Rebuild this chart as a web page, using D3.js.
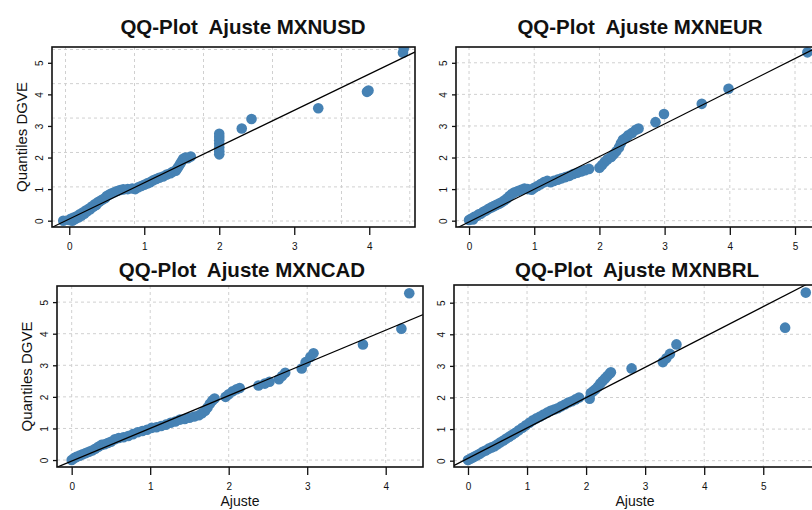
<!DOCTYPE html>
<html>
<head>
<meta charset="utf-8">
<script src="https://cdn.jsdelivr.net/npm/d3@7"></script>
<style>
  body { margin: 0; background: #fff; }
  text { font-family: "Liberation Sans", Arial, sans-serif; }
</style>
</head>
<body>
<div id="chart"></div>
<script>
// QQ-plot data: x = Ajuste, y = Quantiles DGVE
let usdPts = [[-0.08,0.0],[0.00,0.02],[0.02,0.06],[0.04,0.00],[0.06,0.10],[0.08,0.05],[0.10,0.14],[0.12,0.10],[0.14,0.20],[0.16,0.16],[0.18,0.26],[0.20,0.22],[0.22,0.32],[0.24,0.30],[0.26,0.38],[0.28,0.36],[0.30,0.45],[0.32,0.44],[0.34,0.52],[0.36,0.50],[0.38,0.58],[0.40,0.60],[0.42,0.64],[0.45,0.68],[0.48,0.72],[0.50,0.78],[0.53,0.82],[0.56,0.86],[0.60,0.90],[0.64,0.94],[0.68,0.97],[0.72,0.99],[0.78,1.00],[0.84,1.02],[0.88,1.00],[0.92,1.06],[0.96,1.10],[1.00,1.14],[1.04,1.18],[1.08,1.22],[1.12,1.28],[1.16,1.32],[1.20,1.36],[1.25,1.40],[1.30,1.46],[1.35,1.50],[1.38,1.55],[1.42,1.58],[1.44,1.65],[1.46,1.72],[1.48,1.80],[1.50,1.88],[1.52,1.96],[1.55,2.00],[1.58,1.98],[1.62,2.03],[2.00,2.10],[2.00,2.20],[2.00,2.32],[2.00,2.44],[2.00,2.55],[2.00,2.65],[2.00,2.75],[2.30,2.92],[2.43,3.22],[3.32,3.56],[3.97,4.08],[3.99,4.12],[4.45,5.32],[4.46,5.45]]
let eurPts = [[0.00,0.02],[0.03,0.06],[0.06,0.04],[0.08,0.12],[0.12,0.15],[0.15,0.20],[0.18,0.22],[0.22,0.28],[0.26,0.32],[0.30,0.38],[0.34,0.42],[0.38,0.46],[0.42,0.50],[0.46,0.54],[0.50,0.58],[0.54,0.64],[0.58,0.70],[0.62,0.78],[0.66,0.85],[0.70,0.90],[0.75,0.94],[0.80,0.98],[0.85,1.02],[0.90,1.00],[0.96,0.98],[1.00,1.04],[1.05,1.10],[1.10,1.16],[1.15,1.22],[1.20,1.26],[1.25,1.22],[1.30,1.26],[1.36,1.30],[1.42,1.34],[1.48,1.38],[1.54,1.42],[1.60,1.48],[1.66,1.52],[1.72,1.56],[1.78,1.60],[1.84,1.64],[2.00,1.68],[2.04,1.76],[2.08,1.86],[2.12,1.94],[2.18,2.02],[2.22,2.10],[2.26,2.20],[2.30,2.32],[2.33,2.45],[2.36,2.56],[2.40,2.62],[2.44,2.70],[2.50,2.78],[2.56,2.88],[2.60,2.92],[2.86,3.12],[2.99,3.38],[3.57,3.70],[3.98,4.18],[5.19,5.33]]
let cadPts = [[0.00,0.00],[0.03,0.06],[0.06,0.10],[0.10,0.14],[0.14,0.18],[0.18,0.22],[0.22,0.26],[0.26,0.30],[0.30,0.36],[0.34,0.42],[0.38,0.48],[0.42,0.50],[0.46,0.54],[0.50,0.58],[0.55,0.66],[0.60,0.70],[0.66,0.72],[0.72,0.76],[0.78,0.82],[0.84,0.88],[0.90,0.92],[0.96,0.96],[1.02,1.02],[1.08,1.04],[1.14,1.08],[1.20,1.12],[1.26,1.18],[1.32,1.22],[1.38,1.28],[1.44,1.30],[1.50,1.34],[1.56,1.38],[1.62,1.42],[1.66,1.48],[1.70,1.56],[1.73,1.66],[1.76,1.78],[1.79,1.88],[1.82,1.95],[1.96,2.00],[2.00,2.08],[2.05,2.18],[2.10,2.24],[2.14,2.28],[2.38,2.36],[2.46,2.42],[2.52,2.48],[2.64,2.56],[2.68,2.66],[2.72,2.76],[2.93,2.90],[2.98,3.10],[3.04,3.26],[3.08,3.38],[3.71,3.66],[4.20,4.16],[4.30,5.28]]
let brlPts = [[0.00,0.02],[0.04,0.06],[0.08,0.10],[0.12,0.14],[0.16,0.18],[0.20,0.22],[0.25,0.28],[0.30,0.32],[0.35,0.38],[0.40,0.42],[0.45,0.46],[0.50,0.52],[0.55,0.58],[0.60,0.64],[0.65,0.70],[0.70,0.76],[0.75,0.82],[0.80,0.88],[0.86,0.96],[0.92,1.04],[0.98,1.12],[1.04,1.20],[1.10,1.28],[1.16,1.34],[1.22,1.40],[1.28,1.46],[1.34,1.52],[1.40,1.58],[1.46,1.62],[1.52,1.66],[1.58,1.72],[1.64,1.78],[1.70,1.84],[1.76,1.88],[1.82,1.94],[1.88,2.00],[2.06,1.96],[2.08,2.14],[2.12,2.20],[2.16,2.26],[2.20,2.34],[2.24,2.44],[2.28,2.52],[2.32,2.60],[2.36,2.68],[2.40,2.76],[2.42,2.80],[2.77,2.92],[3.30,3.12],[3.36,3.24],[3.42,3.38],[3.53,3.68],[5.37,4.21],[5.72,5.32]]

// qq reference lines, as two end points [x, y]
let usdLine = [[-0.3,-0.29],[5,5.79]]
let eurLine = [[-0.3,-0.35],[6,6.17]]
let cadLine = [[-0.3,-0.345],[5,5.15]]
let brlLine = [[-0.3,-0.212],[6.5,6.316]]

// tick labels
let ticksY = [0,1,2,3,4,5]
let usdTicksX = [0,1,2,3,4]
let eurTicksX = [0,1,2,3,4,5]
let cadTicksX = [0,1,2,3,4]
let brlTicksX = [0,1,2,3,4,5]

// grid positions (the first panel's grid is not on its ticks)
let usdGridX = [-0.05,0.87,1.79,2.71,3.63,4.54]
let usdGridY = [-0.01,1.07,2.16,3.25,4.34,5.42]

let panels = [
    {title: "QQ-Plot  Ajuste MXNUSD", pts: usdPts, fit: usdLine, tx: usdTicksX, gx: usdGridX, gy: usdGridY,
     box: [52, 47, 415, 227], xd: [-0.23, 4.61], yd: [-0.2, 5.5], titlePos: [243, 34], yTitle: true, xTitle: false},
    {title: "QQ-Plot  Ajuste MXNEUR", pts: eurPts, fit: eurLine, tx: eurTicksX, gx: eurTicksX, gy: ticksY,
     box: [456, 47, 822, 227], xd: [-0.2, 5.414], yd: [-0.2, 5.5], titlePos: [640, 34], yTitle: false, xTitle: false},
    {title: "QQ-Plot  Ajuste MXNCAD", pts: cadPts, fit: cadLine, tx: cadTicksX, gx: cadTicksX, gy: ticksY,
     box: [57, 286, 423, 467], xd: [-0.187, 4.475], yd: [-0.22, 5.51], titlePos: [242, 277], yTitle: true, xTitle: true},
    {title: "QQ-Plot  Ajuste MXNBRL", pts: brlPts, fit: brlLine, tx: brlTicksX, gx: brlTicksX, gy: ticksY,
     box: [454, 285, 820, 467], xd: [-0.237, 5.961], yd: [-0.2, 5.56], titlePos: [637, 277], yTitle: false, xTitle: true}
]

const svg = d3.select("#chart").append("svg")
    .attr("width", 812)
    .attr("height", 510)

panels.forEach((p, i) => {
    let [l, t, r, b] = p.box
    let x = d3.scaleLinear().domain(p.xd).range([l, r])
    let y = d3.scaleLinear().domain(p.yd).range([b, t])
    let g = svg.append("g")

    g.append("clipPath").attr("id", "clip" + i)
        .append("rect").attr("x", l).attr("y", t).attr("width", r - l).attr("height", b - t)

    let grid = g.append("g")
        .attr("stroke", "#d0d0d0")
        .attr("stroke-width", 1)
        .attr("stroke-dasharray", "3,3")
    grid.selectAll(".gx").data(p.gx).join("line")
        .attr("x1", d => x(d)).attr("x2", d => x(d))
        .attr("y1", t).attr("y2", b)
    grid.selectAll(".gy").data(p.gy).join("line")
        .attr("class", "gy")
        .attr("y1", d => y(d)).attr("y2", d => y(d))
        .attr("x1", l).attr("x2", r)

    let inner = g.append("g").attr("clip-path", `url(#clip${i})`)
    inner.selectAll("circle").data(p.pts).join("circle")
        .attr("cx", d => x(d[0]))
        .attr("cy", d => y(d[1]))
        .attr("r", 5.3)
        .attr("fill", "#4682b4")
    inner.append("path")
        .datum(p.fit)
        .attr("d", d3.line().x(d => x(d[0])).y(d => y(d[1])))
        .attr("stroke", "#000")
        .attr("stroke-width", 1.2)
        .attr("fill", "none")

    g.append("rect")
        .attr("x", l).attr("y", t).attr("width", r - l).attr("height", b - t)
        .attr("fill", "none").attr("stroke", "#111").attr("stroke-width", 1.6)

    let xAxis = g.append("g")
        .attr("transform", `translate(0,${b})`)
        .call(d3.axisBottom(x).tickValues(p.tx).tickSize(8).tickPadding(8).tickFormat(d3.format("d")))
    xAxis.select(".domain").remove()
    xAxis.selectAll("text").attr("font-size", 10).attr("fill", "#111")
    xAxis.selectAll("line").attr("stroke", "#111").attr("stroke-width", 1.3)

    let yAxis = g.append("g")
        .attr("transform", `translate(${l},0)`)
        .call(d3.axisLeft(y).tickValues(ticksY).tickSize(4).tickFormat(d3.format("d")))
    yAxis.select(".domain").remove()
    yAxis.selectAll("line").attr("stroke", "#111").attr("stroke-width", 1.3)
    yAxis.selectAll("text")
        .attr("font-size", 10)
        .attr("fill", "#111")
        .attr("x", 0).attr("dy", 0)
        .attr("text-anchor", "middle")
        .attr("transform", "translate(-9,0) rotate(-90)")

    g.append("text")
        .attr("x", p.titlePos[0]).attr("y", p.titlePos[1])
        .attr("text-anchor", "middle")
        .attr("font-size", 20.5)
        .attr("font-weight", "bold")
        .attr("fill", "#111")
        .style("white-space", "pre")
        .text(p.title)

    if (p.yTitle) {
        g.append("text")
            .attr("transform", `translate(${l - 25},${(t + b) / 2}) rotate(-90)`)
            .attr("text-anchor", "middle")
            .attr("font-size", 15)
            .attr("fill", "#111")
            .text("Quantiles DGVE")
    }
    if (p.xTitle) {
        g.append("text")
            .attr("x", p.titlePos[0] - 2).attr("y", 506)
            .attr("text-anchor", "middle")
            .attr("font-size", 14)
            .attr("fill", "#111")
            .text("Ajuste")
    }
})
</script>
</body>
</html>
